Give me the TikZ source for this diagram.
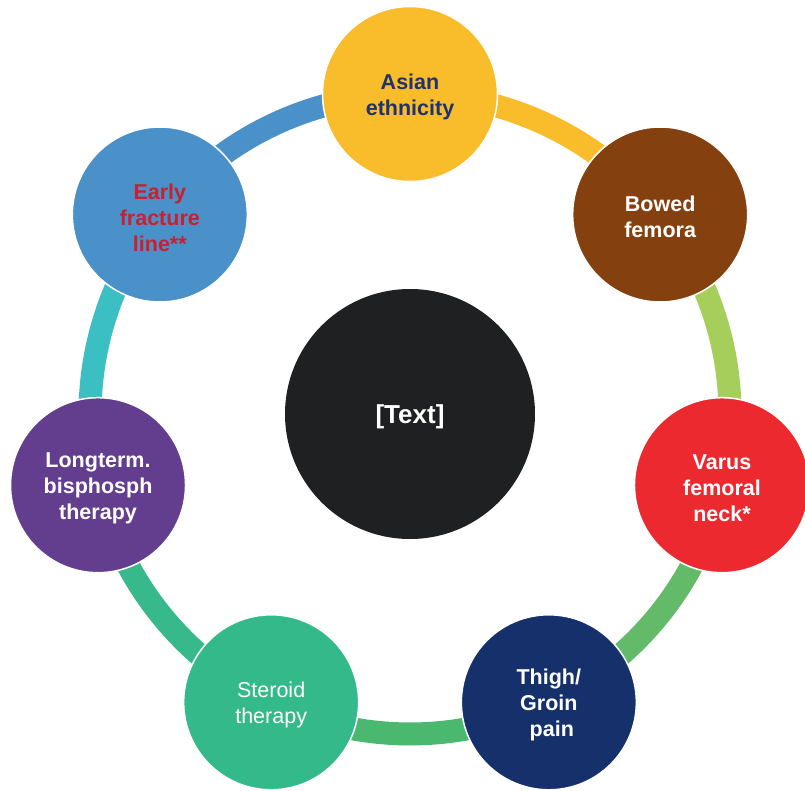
\documentclass[tikz,border=0pt]{standalone}
\usepackage{fontspec}
\setmainfont{Liberation Sans}
\definecolor{cAsian}{HTML}{F9BC2A}
\definecolor{cBowed}{HTML}{84400F}
\definecolor{cVarus}{HTML}{EC292E}
\definecolor{cThigh}{HTML}{16306B}
\definecolor{cSteroid}{HTML}{34B98A}
\definecolor{cLong}{HTML}{633E8F}
\definecolor{cEarly}{HTML}{4A91C9}
\definecolor{cCenter}{HTML}{1F2022}
\definecolor{tNavy}{HTML}{1E3370}
\definecolor{tRed}{HTML}{C9202F}
\definecolor{sA}{HTML}{F9BC2A}
\definecolor{sB}{HTML}{A5CE5B}
\definecolor{sC}{HTML}{63BB69}
\definecolor{sD}{HTML}{4AB86F}
\definecolor{sE}{HTML}{37B98B}
\definecolor{sF}{HTML}{3CBFC2}
\definecolor{sG}{HTML}{4A91C9}
\tikzset{
  bubble/.style={circle, minimum size=175pt, inner sep=0pt, draw=white, line width=1.5pt},
  bubbletext/.style={inner sep=0pt, align=center, text=white, font=\fontsize{21.5}{26}\selectfont\bfseries},
  ringseg/.style={line width=23pt, line cap=butt}
}
\begin{document}
\begin{tikzpicture}[x=1pt,y=1pt]
\useasboundingbox[fill=white] (-410,-376) rectangle (395,414);
% ring segments
\coordinate (ring) at (0,0);
\coordinate (pA) at (90:320);
\coordinate (pB) at (38.571:320);
\coordinate (pC) at (-12.857:320);
\coordinate (pD) at (-64.286:320);
\coordinate (pE) at (-115.714:320);
\coordinate (pF) at (-167.143:320);
\coordinate (pG) at (-218.571:320);
\draw[ringseg, sA] (pA) arc[start angle=90, end angle=38.571, radius=320];
\draw[ringseg, sB] (pB) arc[start angle=38.571, end angle=-12.857, radius=320];
\draw[ringseg, sC] (pC) arc[start angle=-12.857, end angle=-64.286, radius=320];
\draw[ringseg, sD] (pD) arc[start angle=-64.286, end angle=-115.714, radius=320];
\draw[ringseg, sE] (pE) arc[start angle=-115.714, end angle=-167.143, radius=320];
\draw[ringseg, sF] (pF) arc[start angle=-167.143, end angle=-218.571, radius=320];
\draw[ringseg, sG] (pG) arc[start angle=-218.571, end angle=-270, radius=320];
% circles
\node[bubble, fill=cAsian] (asian) at (pA) {};
\node[bubble, fill=cBowed] (bowed) at (pB) {};
\node[bubble, fill=cVarus] (varus) at (pC) {};
\node[bubble, fill=cThigh] (thigh) at (pD) {};
\node[bubble, fill=cSteroid] (steroid) at (pE) {};
\node[bubble, fill=cLong] (long) at (pF) {};
\node[bubble, fill=cEarly] (early) at (pG) {};
\node[circle, minimum size=250pt, inner sep=0pt, fill=cCenter] (center) at (0,0) {};
% labels
\node[bubbletext, text=tNavy] (asianT) at ([yshift=-3pt]asian.center) {Asian\\ethnicity};
\node[bubbletext] (bowedT) at ([yshift=-2pt]bowed.center) {Bowed\\femora};
\node[bubbletext] (varusT) at ([yshift=-3pt]varus.center) {Varus\\femoral\\neck*};
\node[bubbletext] (thighT) at ([yshift=-3pt]thigh.center) {Thigh/\\Groin\\\ pain};
\node[bubbletext, font=\fontsize{21.5}{26}\selectfont] (steroidT) at ([yshift=-3pt]steroid.center) {Steroid\\therapy};
\node[bubbletext] (longT) at ([yshift=-3pt]long.center) {Longterm.\\bisphosph\\therapy};
\node[bubbletext, text=tRed] (earlyT) at ([yshift=-3pt]early.center) {Early\\fracture\\line**};
\node[bubbletext, font=\fontsize{26}{30}\selectfont\bfseries] (centerT) at ([yshift=-3pt]center.center) {[Text]};
\end{tikzpicture}
\end{document}
